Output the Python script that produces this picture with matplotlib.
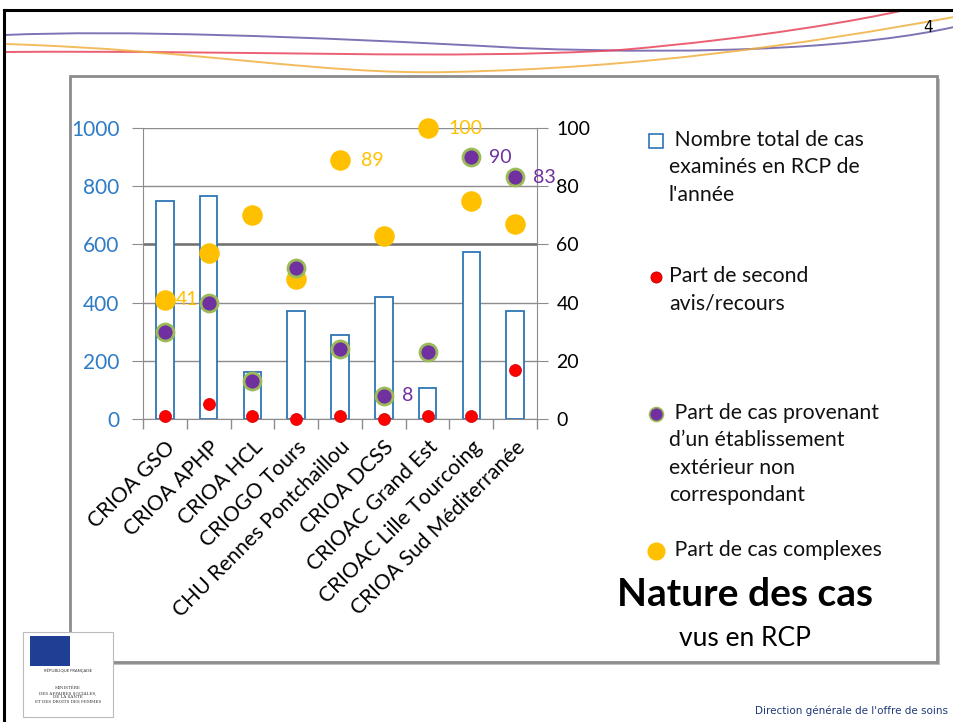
import numpy as np
import matplotlib
matplotlib.use("Agg")
import matplotlib.pyplot as plt
from matplotlib.path import Path
from matplotlib.patches import PathPatch, Rectangle

plt.rcParams['font.family'] = ['Lato', 'DejaVu Sans']

# --- data ---
categories = ["CRIOA GSO", "CRIOA APHP", "CRIOA HCL", "CRIOGO Tours",
              "CHU Rennes Pontchaillou", "CRIOA DCSS", "CRIOAC Grand Est",
              "CRIOAC Lille Tourcoing", "CRIOA Sud Méditerranée"]
total_cas = [750, 765, 160, 370, 290, 420, 105, 575, 370]
second_avis = [1, 5, 1, 0, 1, 0, 1, 1, 17]
ext_non_corresp = [30, 40, 13, 52, 24, 8, 23, 90, 83]
cas_complexes = [41, 57, 70, 48, 89, 63, 100, 75, 67]

# which points carry a value label
labels_complexes = [0, 4, 6]
labels_ext = [5, 7, 8]

W, H = 954, 722
fig = plt.figure(figsize=(W / 100, H / 100), dpi=100)

# background layer in pixel coordinates
bg = fig.add_axes([0, 0, 1, 1], zorder=0)
bg.set_xlim(0, W)
bg.set_ylim(H, 0)
bg.axis("off")

# slide frame
bg.plot([4, W], [10, 10], color="black", lw=2.2)
bg.plot([4, 4], [10, H], color="black", lw=2.2)

# swooshes at the top
def swoosh(pts, color):
    verts = [pts[0]]
    codes = [Path.MOVETO]
    for i in range(1, len(pts) - 1, 3):
        verts += pts[i:i + 3]
        codes += [Path.CURVE4] * 3
    bg.add_patch(PathPatch(Path(verts, codes), fc="none", ec=color, lw=1.4, alpha=0.85))

swoosh([(5, 35), (120, 30), (300, 36), (520, 48), (720, 56), (870, 46), (954, 27)], "#6a5aa8")
swoosh([(5, 52), (250, 50), (450, 60), (620, 50), (760, 38), (860, 20), (905, 10)], "#e8435a")
swoosh([(5, 44), (200, 50), (320, 75), (450, 72), (640, 68), (800, 45), (954, 17)], "#f0b040")
bg.text(928, 27, "4", fontsize=11, ha="center", va="center", family="DejaVu Sans Condensed")

# chart box with shadow
bg.add_patch(Rectangle((73, 79), 867, 586, fc="#bdbdbd", ec="none"))
bg.add_patch(Rectangle((70, 76), 867, 586, fc="white", ec="#8c8c8c", lw=2))

# logo block
bg.add_patch(Rectangle((23, 632), 90, 85, fc="white", ec="#bbbbbb", lw=0.8))
bg.add_patch(Rectangle((30, 636), 40, 30, fc="#1f3f95", ec="none"))
bg.text(68, 672, "RÉPUBLIQUE FRANÇAISE", fontsize=3, ha="center", color="#333")
bg.text(68, 695, "MINISTÈRE\nDES AFFAIRES SOCIALES,\nDE LA SANTÉ\nET DES DROITS DES FEMMES",
        fontsize=3, ha="center", va="center", color="#333", family="DejaVu Serif")
bg.text(948, 711, "Direction générale de l'offre de soins", fontsize=7.5,
        ha="right", va="center", color="#1f3a7a", family="DejaVu Sans Condensed")

# legend
leg_x, txt_x = 656, 669
bg.plot(leg_x, 141, marker="s", ms=10, mfc="white", mec="#2E75B6", mew=1.2)
bg.plot(leg_x, 277, marker="o", ms=8, mfc="#ff0000", mec="#c00000", mew=0.6)
bg.plot(leg_x, 414, marker="o", ms=10, mfc="#7030A0", mec="#9BBB59", mew=1.2)
bg.plot(leg_x, 551, marker="o", ms=12, mfc="#FFC000", mec="#FFC000")
legend_txt = [(130, " Nombre total de cas\nexaminés en RCP de\nl'année"),
              (266, "Part de second\navis/recours"),
              (403, " Part de cas provenant\nd\u2019un établissement\nextérieur non\ncorrespondant"),
              (540, " Part de cas complexes")]
for y, t in legend_txt:
    bg.text(txt_x, y, t, fontsize=15.3, va="top", ha="left", linespacing=1.46, color="#111")

bg.text(745, 595, "Nature des cas", fontsize=28, fontweight="bold", ha="center", va="center")
bg.text(745, 638, "vus en RCP", fontsize=19, ha="center", va="center")

# --- chart ---
ax = fig.add_axes([143 / W, 1 - 419 / H, (537 - 143) / W, (419 - 128) / H], zorder=2)
ax.patch.set_alpha(0)
x = np.arange(len(categories))
ax.bar(x, total_cas, width=0.4, facecolor="white", edgecolor="#2E75B6", lw=1.3, zorder=2)
ax.set_ylim(0, 1000)
ax.set_yticks(np.arange(0, 1001, 200))
ax.set_xlim(-0.5, len(categories) - 0.5)
ax.grid(axis="y", color="#8c8c8c", lw=1)
ax.axhline(600, color="#707070", lw=1.8, zorder=1)
ax.set_axisbelow(True)
ax.set_xticks(x)
ax.set_xticklabels(categories, rotation=45, ha="right", rotation_mode="anchor", fontsize=15.2)
ax.set_xticks(np.arange(-0.5, len(categories), 1), minor=True)
ax.tick_params(axis="x", which="major", length=0, pad=13)
ax.tick_params(axis="x", which="minor", length=7, color="#8c8c8c", width=1)
ax.tick_params(axis="y", length=8, color="#8c8c8c", labelcolor="#2E7BC6", labelsize=15, pad=9)
for s in ["top", "right"]:
    ax.spines[s].set_visible(False)
for s in ["left", "bottom"]:
    ax.spines[s].set_color("#8c8c8c")

ax2 = ax.twinx()
ax2.set_ylim(0, 100)
ax2.set_yticks(np.arange(0, 101, 20))
ax2.tick_params(axis="y", length=8, color="#8c8c8c", labelsize=14, pad=6)
for s in ["top", "left", "bottom"]:
    ax2.spines[s].set_visible(False)
ax2.spines["right"].set_color("#8c8c8c")

ax2.scatter(x, cas_complexes, s=190, color="#FFC000", zorder=3, clip_on=False)
ax2.scatter(x, ext_non_corresp, s=150, color="#7030A0", edgecolors="#9BBB59",
            linewidths=2, zorder=4, clip_on=False)
ax2.scatter(x, second_avis, s=75, color="#ff0000", edgecolors="#d00000",
            linewidths=0.5, zorder=5, clip_on=False)

for i in labels_complexes:
    dx = 8 if i == 0 else 15
    ax2.annotate(str(cas_complexes[i]), (x[i], cas_complexes[i]), xytext=(dx, 0),
                 textcoords="offset points", va="center", ha="left", fontsize=14,
                 color="#FFC000", annotation_clip=False)
for i in labels_ext:
    ax2.annotate(str(ext_non_corresp[i]), (x[i], ext_non_corresp[i]), xytext=(13, 0),
                 textcoords="offset points", va="center", ha="left", fontsize=14,
                 color="#7030A0", annotation_clip=False)

fig.savefig("out.png", dpi=100)
